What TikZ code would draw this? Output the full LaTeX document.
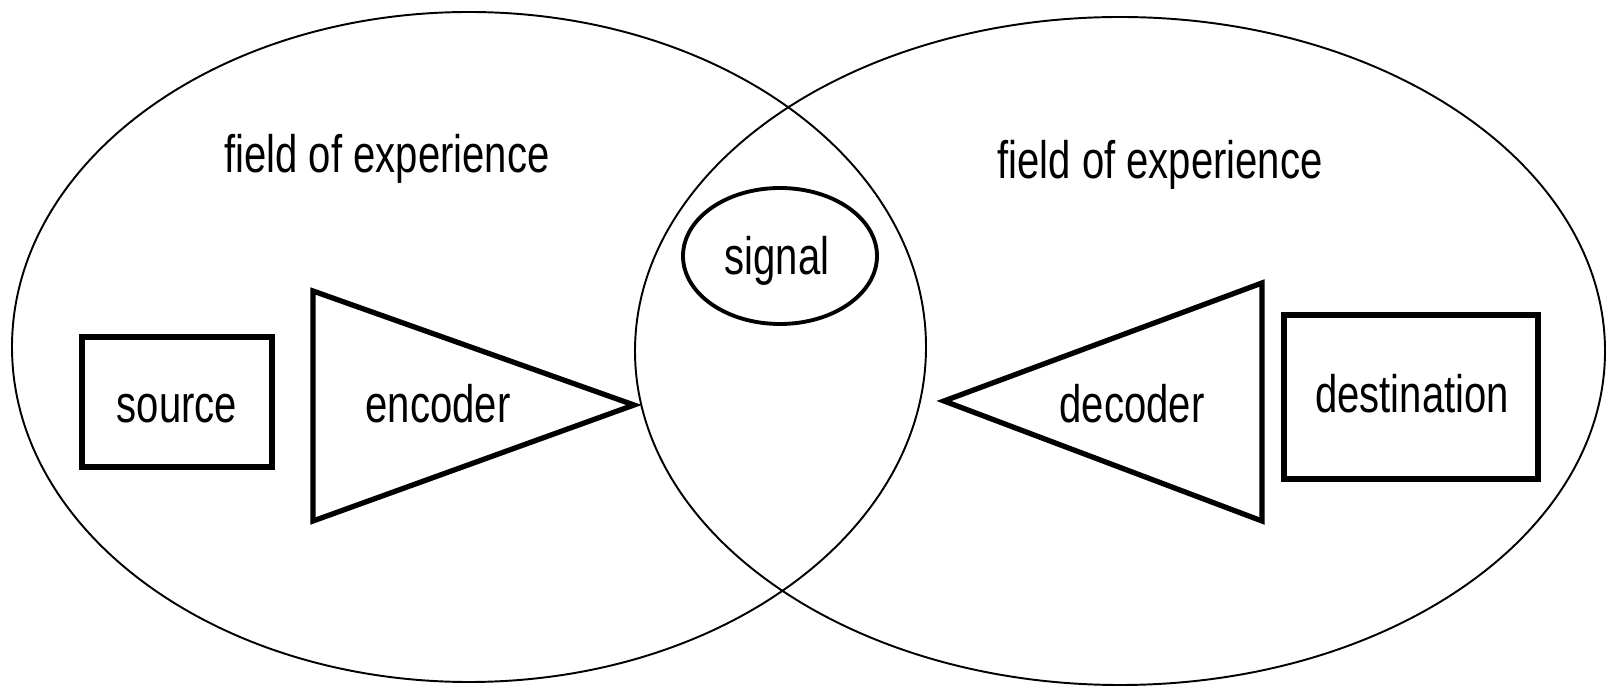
\documentclass[tikz,border=0pt]{standalone}
\usepackage{fontspec}
\setmainfont{Liberation Sans}[FakeStretch=0.76]
\usetikzlibrary{shapes.geometric}

\begin{document}
\begin{tikzpicture}[
  field/.style={draw, ellipse, line width=0.55pt, inner sep=0pt},
  label/.style={font=\fontsize{15}{18}\selectfont, anchor=base, inner sep=0pt},
  unitbox/.style={draw, line width=1.5pt, inner sep=0pt},
  coder/.style={line width=1.5pt},
  signalbox/.style={draw, ellipse, line width=1.1pt, inner sep=0pt, minimum width=1.94cm, minimum height=1.36cm}
]
\useasboundingbox (0,0) rectangle (16.08,6.87);

% fields of experience
\node[field, minimum width=9.14cm, minimum height=6.70cm] (fieldL) at (4.69,3.40) {};
\node[field, minimum width=9.70cm, minimum height=6.68cm] (fieldR) at (11.20,3.36) {};
\node[label] (expL) at (3.87,5.14) {field of experience};
\node[label] (expR) at (11.60,5.08) {field of experience};

% sender side
\node[unitbox, minimum width=1.90cm, minimum height=1.30cm] (src) at (1.77,2.85) {};
\node[label] (srcT) at (1.77,2.64) {source};
\draw[coder] (3.13,3.96) -- (6.34,2.82) -- (3.13,1.66) -- cycle;
\node[label] (enc) at (4.38,2.64) {encoder};

% signal
\node[signalbox] (sig) at (7.80,4.31) {};
\node[label] (sigT) at (7.77,4.12) {signal};

% receiver side
\draw[coder] (12.62,4.04) -- (9.44,2.86) -- (12.62,1.66) -- cycle;
\node[label] (dec) at (11.32,2.64) {decoder};
\node[unitbox, minimum width=2.54cm, minimum height=1.64cm] (dst) at (14.11,2.90) {};
\node[label] (dstT) at (14.12,2.74) {destination};

\end{tikzpicture}
\end{document}
